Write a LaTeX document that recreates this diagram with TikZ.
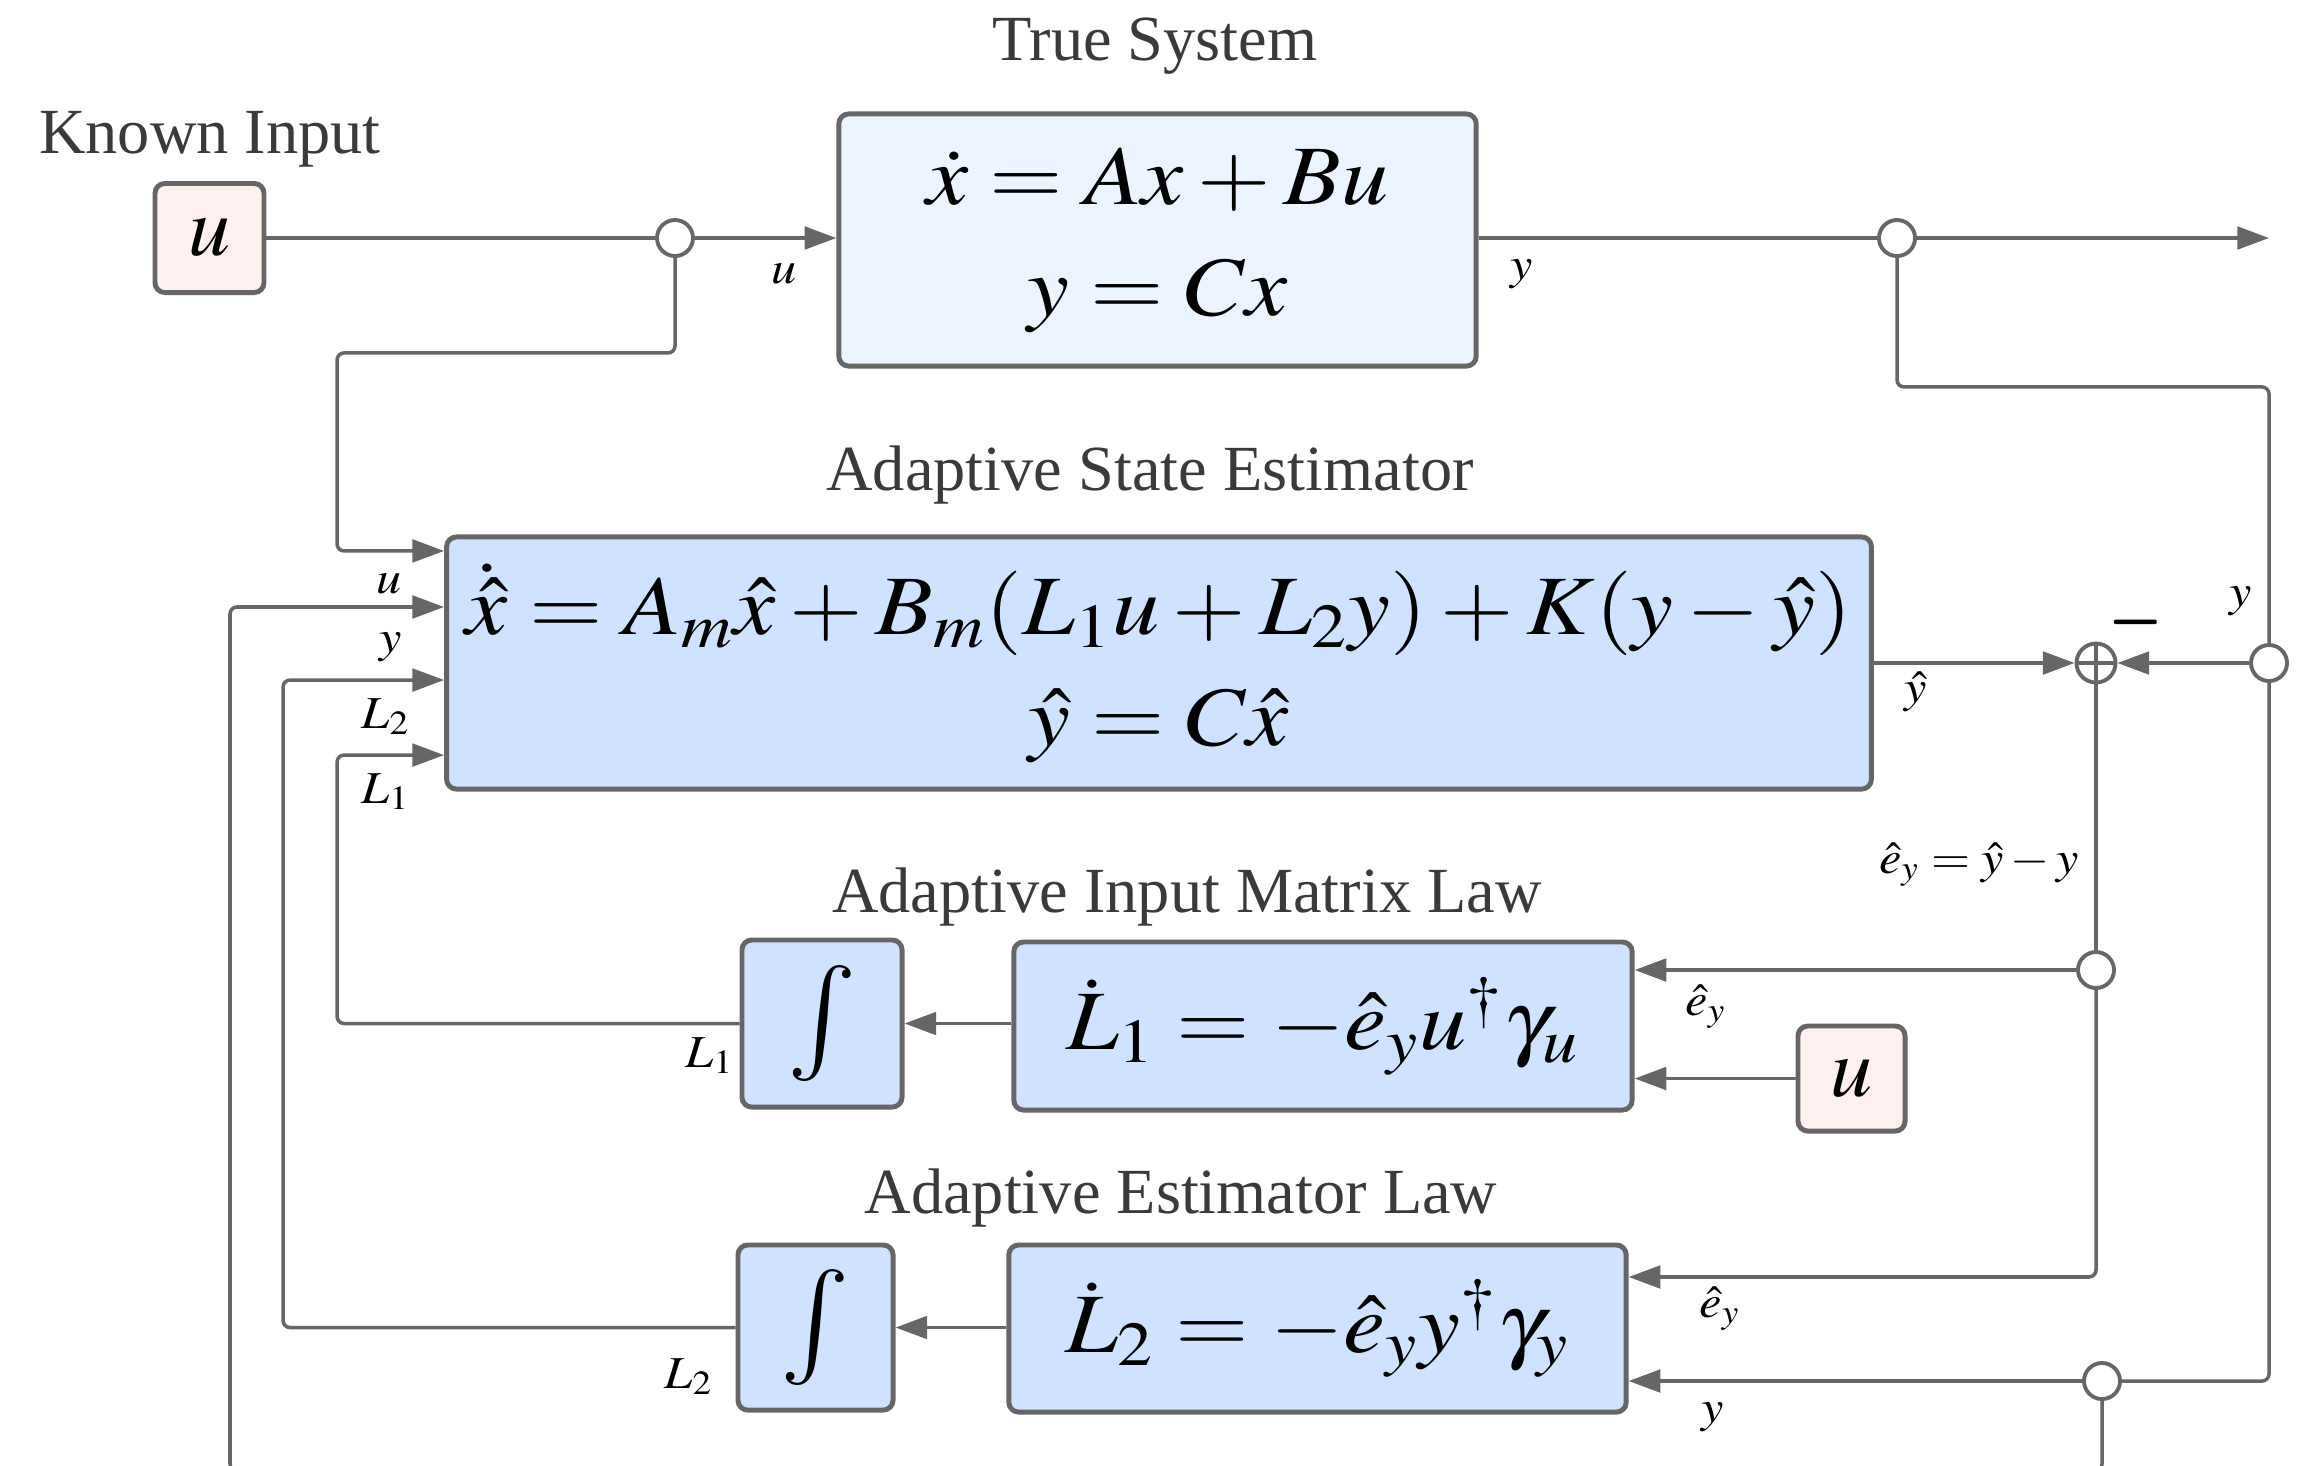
\documentclass[tikz,border=0pt]{standalone}
\usepackage{mathptmx}
\usepackage[no-math]{fontspec}
\setmainfont{Liberation Serif}
\usepackage{graphicx}
\usetikzlibrary{arrows.meta,calc}

\definecolor{lineg}{HTML}{666666}
\definecolor{titleg}{HTML}{3A3A3A}
\definecolor{estfill}{HTML}{CFE2FF}
\definecolor{sysfill}{HTML}{EBF4FF}
\definecolor{ufill}{HTML}{FDF0EF}

\newcommand{\eqbig}[1]{\scalebox{1.12}[1]{$#1$}}
\newcommand{\lm}[1]{\scalebox{1.1}[1]{$#1$}}

\tikzset{
  box/.style={draw=lineg, line width=1.4pt, rounded corners=2.8pt, inner sep=0pt},
  conn/.style={draw=lineg, line width=1pt, rounded corners=2pt},
  arr/.style={-{Triangle[length=9pt,width=6.4pt]}},
  junc/.style={circle, draw=lineg, fill=white, line width=1.1pt, minimum size=0.36cm, inner sep=0pt},
  ttl/.style={text=titleg, font=\fontsize{18.3}{22}\selectfont, anchor=base},
  lbl/.style={font=\fontsize{13}{15}\selectfont, anchor=base},
  bigeq/.style={font=\fontsize{24}{31.5}\selectfont, align=center},
  integ/.style={font=\fontsize{33}{36}\selectfont},
}

\begin{document}
\begin{tikzpicture}[x=0.01cm,y=-0.01cm]
\fill[white] (0,0) rectangle (2315,1465);
\useasboundingbox (0,0) rectangle (2315,1465);

% titles
\node[ttl] (tSys) at (1155,60) {True System};
\node[ttl] (tKnown) at (210,153) {Known Input};
\node[ttl] (tEst) at (1150,490) {Adaptive State Estimator};
\node[ttl] (tAIML) at (1187,912) {Adaptive Input Matrix Law};
\node[ttl] (tAEL) at (1181,1213) {Adaptive Estimator Law};

% blocks
\node[box, fill=sysfill, minimum width=6.37cm, minimum height=2.52cm, bigeq] (sys) at (1157.5,240)
  {\eqbig{\dot{x} = Ax + Bu}\\ \eqbig{y = Cx}};
\node[box, fill=ufill, minimum width=1.09cm, minimum height=1.09cm, font=\fontsize{24}{28}\selectfont] (uin) at (209.5,238) {$u$};
\node[box, fill=estfill, minimum width=14.24cm, minimum height=2.52cm, bigeq] (est) at (1159,663)
  {\eqbig{\dot{\hat{x}} = A_m\hat{x} + B_m(L_1u + L_2y) + K(y-\hat{y})}\\ \eqbig{\hat{y} = C\hat{x}}};
\node[box, fill=estfill, minimum width=1.60cm, minimum height=1.67cm, integ] (int1) at (822,1023.5) {$\int$};
\node[box, fill=estfill, minimum width=6.18cm, minimum height=1.68cm, bigeq] (L1box) at (1323,1026)
  {\eqbig{\dot{L}_1 = -\hat{e}_y u^{\dagger} \gamma_u}};
\node[box, fill=ufill, minimum width=1.07cm, minimum height=1.05cm, font=\fontsize{24}{28}\selectfont] (uin2) at (1851.5,1078.5) {$u$};
\node[box, fill=estfill, minimum width=1.55cm, minimum height=1.65cm, integ] (int2) at (815.5,1327.5) {$\int$};
\node[box, fill=estfill, minimum width=6.17cm, minimum height=1.67cm, bigeq] (L2box) at (1317.5,1328.5)
  {\eqbig{\dot{L}_2 = -\hat{e}_y y^{\dagger} \gamma_y}};

% junctions
\node[junc] (c1) at (675,238) {};
\node[junc] (c2) at (1897,238) {};
\node[junc] (c3) at (2269,663) {};
\node[junc] (c4) at (2096,970) {};
\node[junc] (c5) at (2102,1381) {};
\node[junc, minimum size=0.39cm, path picture={\draw[lineg, line width=1.1pt]
   (path picture bounding box.north) -- (path picture bounding box.south)
   (path picture bounding box.west) -- (path picture bounding box.east);}] (sum) at (2096,663) {};
\coordinate (yout) at (2269,238);

% connectors
\draw[conn] (uin.east) -- (c1.west);
\draw[conn,arr] (c1.east) -- (sys.west |- c1);
\draw[conn,arr] (c1.south) -- ++(0,95) -| ([xshift=-1.07cm,yshift=1.12cm]est.west) -- ([yshift=1.12cm]est.west);
\draw[conn] (sys.east |- c2) -- (c2.west);
\draw[conn,arr] (c2.east) -- (yout);
\draw[conn] (c2.south) -- ++(0,129) -| (c3.north);
\draw[conn,arr] (c3.west) -- (sum.east);
\draw[conn,arr] (est.east |- sum) -- (sum.west);
\draw[conn] (sum.south) -- (c4.north);
\draw[conn,arr] (c4.west) -- (L1box.east |- c4);
\draw[conn,arr] (uin2.west) -- (L1box.east |- uin2);
\draw[conn,arr] (c4.south) |- ([yshift=0.515cm]L2box.east);
\draw[conn] (c3.south) |- (c5.east);
\draw[conn,arr] (c5.west) -- (L2box.east |- c5);
\draw[conn,arr] (c5.south) -- ++(0,70) -| ([xshift=-2.14cm,yshift=0.56cm]est.west) -- ([yshift=0.56cm]est.west);
\draw[conn,arr] (L1box.west |- int1) -- (int1.east);
\draw[conn,arr] (int1.west) -| ([xshift=-1.07cm,yshift=-0.92cm]est.west) -- ([yshift=-0.92cm]est.west);
\draw[conn,arr] (L2box.west |- int2) -- (int2.east);
\draw[conn,arr] (int2.west) -| ([xshift=-1.61cm,yshift=-0.17cm]est.west) -- ([yshift=-0.17cm]est.west);

% labels
\node[lbl] (lu1) at (784,283) {\lm{u}};
\node[lbl] (lu2) at (389,593) {\lm{u}};
\node[lbl] (ly2) at (391,652) {\lm{y}};
\node[lbl] (lL2) at (386,728) {\lm{L_2}};
\node[lbl] (lL1) at (386,803) {\lm{L_1}};
\node[lbl] (ly1) at (1522,279) {\lm{y}};
\node[lbl] (lyh) at (1916,702) {\lm{\hat{y}}};
\node[lbl] (ly3) at (2241,606) {\lm{y}};
\node[lbl] (ley) at (1979,873) {\lm{\hat{e}_y = \hat{y} - y}};
\node[lbl] (le1) at (1706,1015) {\lm{\hat{e}_y}};
\node[lbl] (le2) at (1720,1317) {\lm{\hat{e}_y}};
\node[lbl] (ly4) at (1713,1422) {\lm{y}};
\node[lbl] (lL1b) at (710,1067) {\lm{L_1}};
\node[lbl] (lL2b) at (689,1388) {\lm{L_2}};
\node[font=\fontsize{20}{22}\selectfont, anchor=base] (mn) at (2136,650) {\scalebox{1}[1.6]{$-$}};
\end{tikzpicture}
\end{document}
